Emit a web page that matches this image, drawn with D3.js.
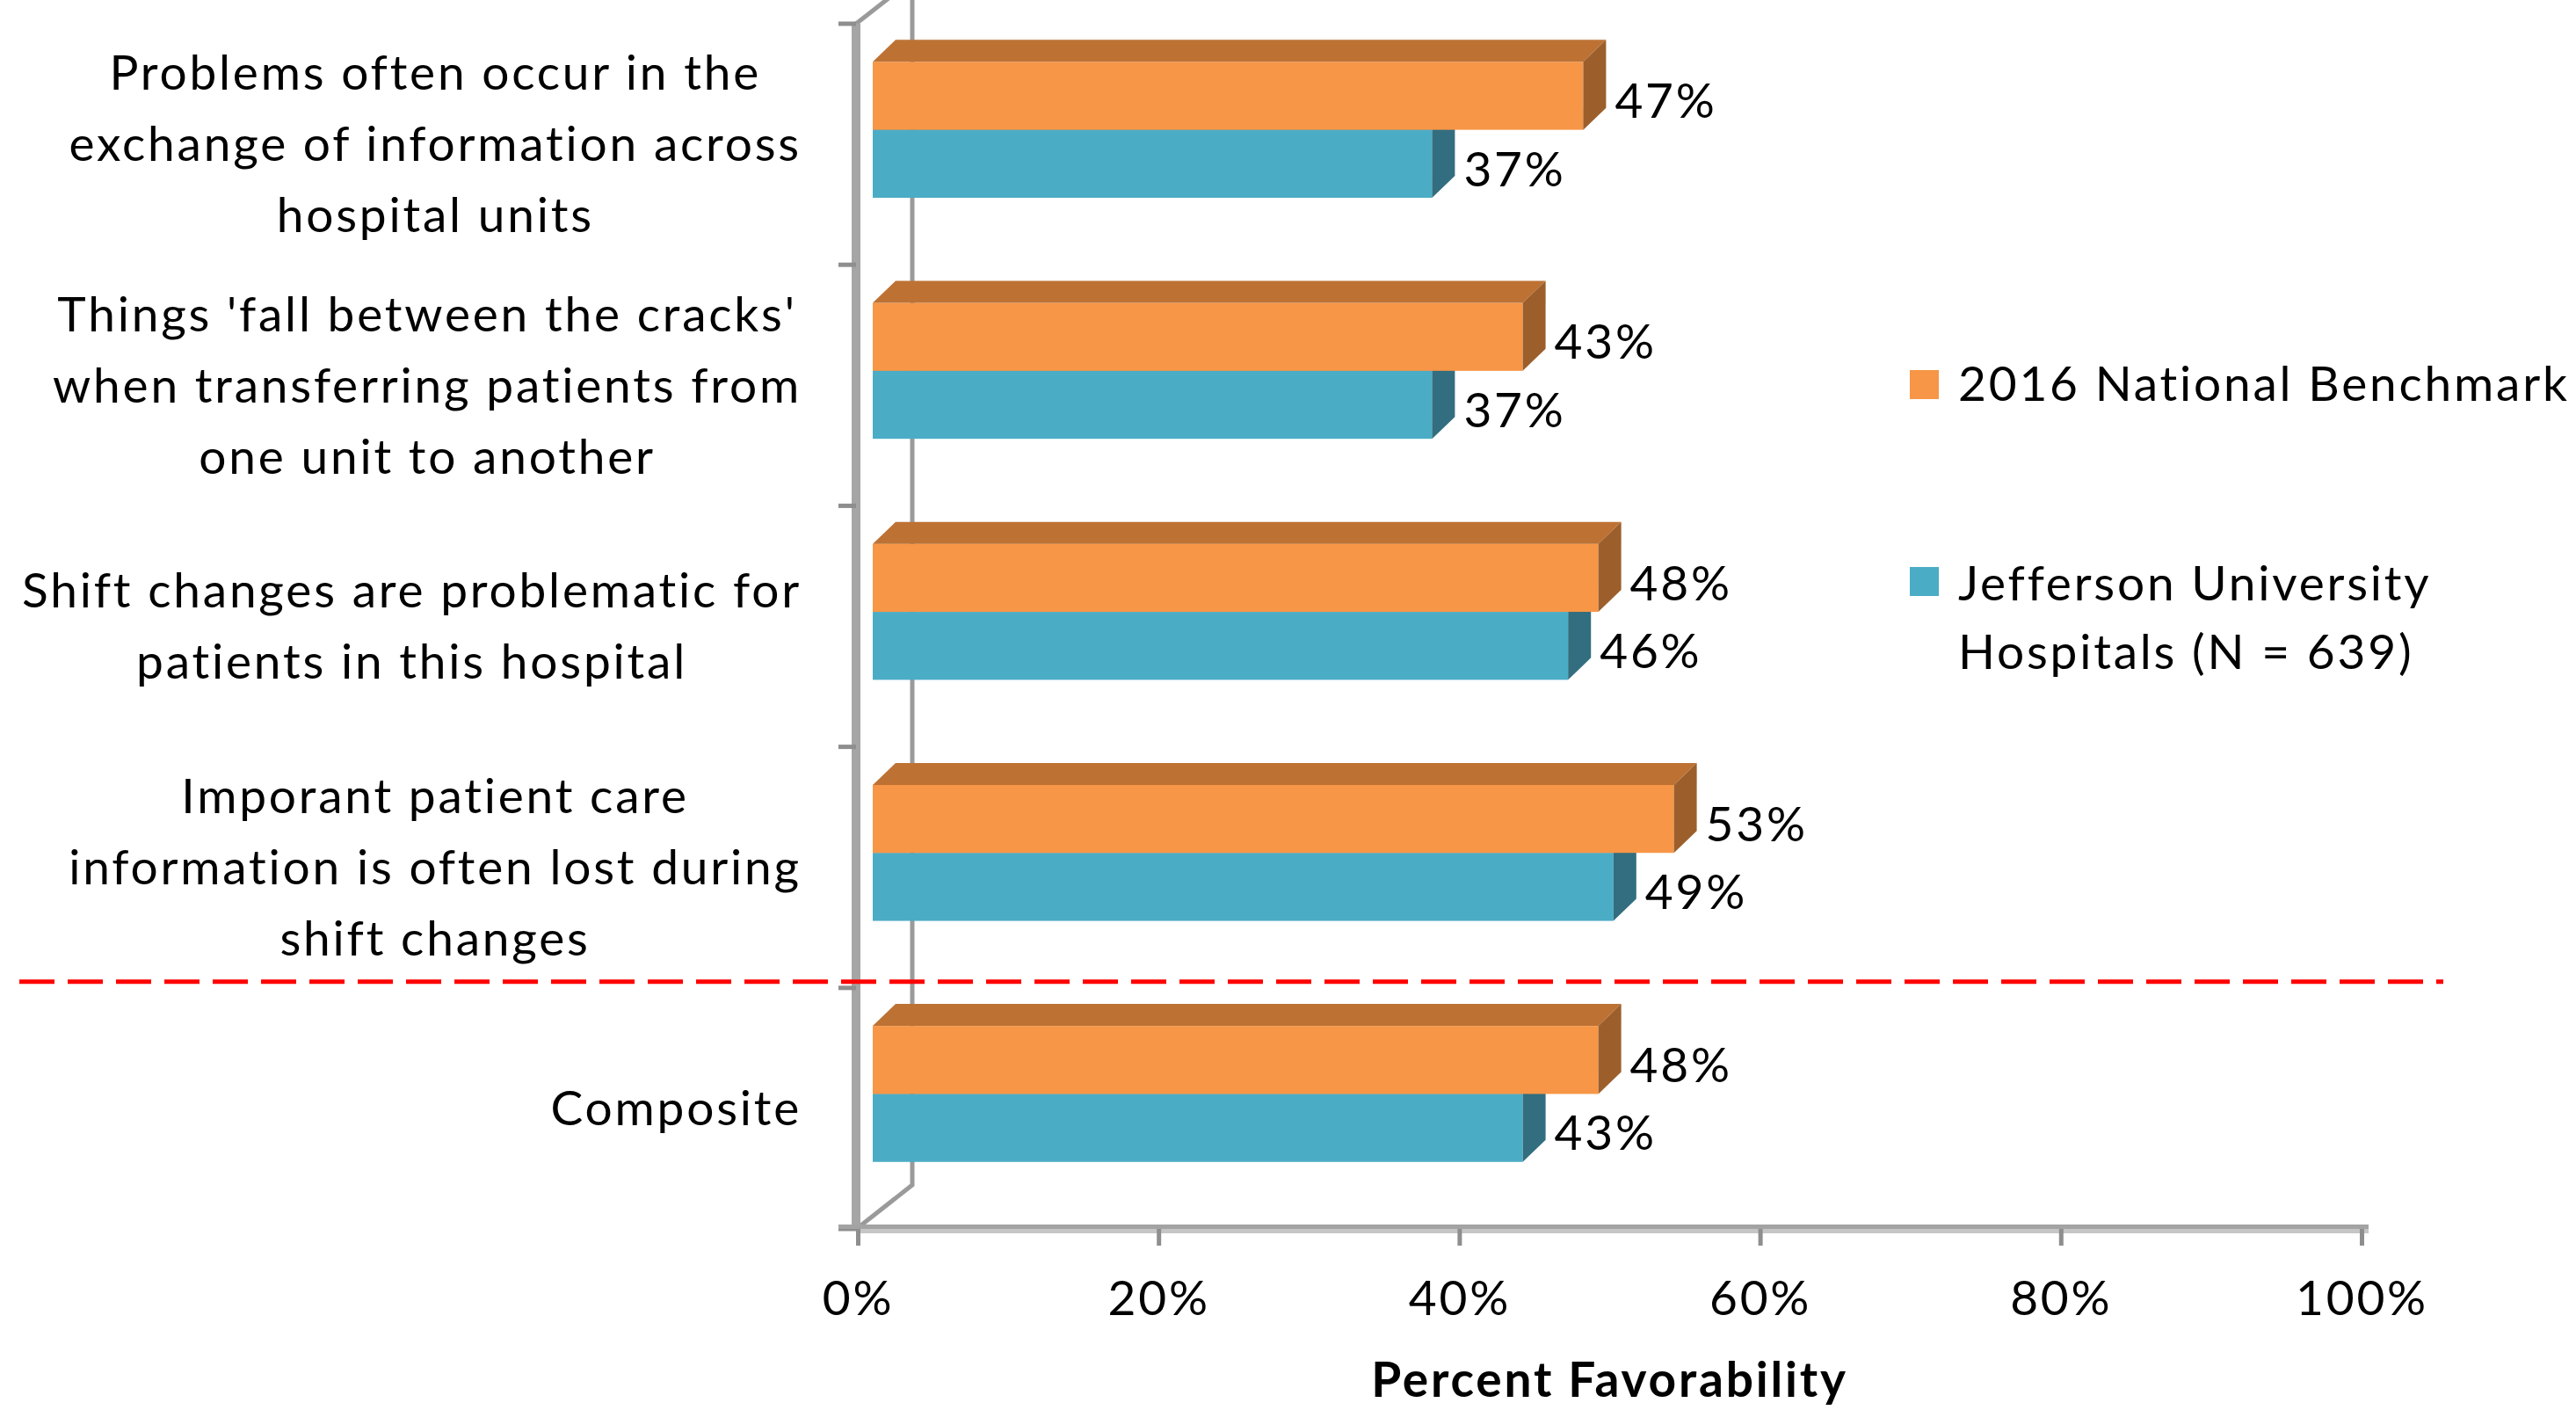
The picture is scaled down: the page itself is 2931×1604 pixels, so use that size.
<!DOCTYPE html>
<html>
<head>
<meta charset="utf-8">
<title>Handoffs and Transitions</title>
<script src="https://cdn.jsdelivr.net/npm/d3@7/dist/d3.min.js"></script>
<style>
  body { margin: 0; background: #fff; }
  text { font-family: Lato, "Open Sans", sans-serif; fill: #000; letter-spacing: 2.8px; }
</style>
</head>
<body>
<svg width="2931" height="1604" id="mainsvg" style="display: block;"></svg>
<script>
// data
const categories = ['c1', 'c2', 'c3', 'c4', 'c5'];
const categoryLines = [
  ['Problems often occur in the', 'exchange of information across', 'hospital units'],
  ["Things 'fall between the cracks'", 'when transferring patients from', 'one unit to another'],
  ['Shift changes are problematic for', 'patients in this hospital'],
  ['Imporant patient care', 'information is often lost during', 'shift changes'],
  ['Composite']
];
const benchmark = [47, 43, 48, 53, 48];
const jefferson = [37, 37, 46, 49, 43];
const seriesNames = ['2016 National Benchmark', 'Jefferson University Hospitals (N = 639)'];
const legendLines = [['2016 National Benchmark'], ['Jefferson University', 'Hospitals (N = 639)']];
const xTicks = [0, 20, 40, 60, 80, 100];
const axisTitle = 'Percent Favorability';

const svg = d3.select('svg');
const width = +svg.attr('width');
const height = +svg.attr('height');
const FS = 55;

// colours for front / top / side faces
const faces = {
  bench: { front: '#F79646', top: '#BD7234', side: '#9C5F2B' },
  jeff:  { front: '#4BACC6', top: '#3C8A9F', side: '#326E7F' }
};

const x = d3.scaleLinear().domain([0, 100]).range([976, 2687]);      // floor front
const xb = d3.scaleLinear().domain([0, 100]).range([993, 2713]);     // bars sit a bit into the depth
const y = d3.scaleBand().domain(categories).range([27, 1398]);
const ySub = d3.scaleBand().domain(['bench', 'jeff']).range([0, y.bandwidth() * 0.564]);
const barOffset = y.bandwidth() * 0.158;
const bdx = 26, bdy = 25;        // bar depth
const wdx = 64, wdy = 50;        // wall depth

// back wall edge
const wall = svg.append('g').attr('stroke', '#9A9A9A').attr('stroke-width', 5).attr('fill', 'none');
wall.append('path').attr('d', d3.line()([
  [x(0) - 2, y.range()[0]], [x(0) - 2 + wdx, y.range()[0] - wdy],
]));
wall.append('path').attr('d', d3.line()([
  [x(0) - 2 + wdx, y.range()[0] - wdy], [x(0) - 2 + wdx, y.range()[1] - wdy], [x(0) + 1, y.range()[1] - 2]
]));

// bars
const rows = categories.map((c, i) => ({ c, i, vals: [['jeff', jefferson[i]], ['bench', benchmark[i]]] }));
const g = svg.append('g');
rows.forEach(r => {
  r.vals.forEach(([k, v]) => {
    const x0 = xb(0), x1 = xb(v);
    const yT = y(r.c) + barOffset + ySub(k);
    const h = ySub.bandwidth();
    const col = faces[k];
    g.append('rect').attr('x', x0).attr('y', yT).attr('width', x1 - x0).attr('height', h).attr('fill', col.front);
    g.append('path').attr('fill', col.top)
      .attr('d', d3.line()([[x0, yT], [x1, yT], [x1 + bdx, yT - bdy], [x0 + bdx, yT - bdy]]) + 'Z');
    g.append('path').attr('fill', col.side)
      .attr('d', d3.line()([[x1, yT], [x1 + bdx, yT - bdy], [x1 + bdx, yT + h - bdy], [x1, yT + h]]) + 'Z');
    g.append('text').attr('x', x1 + bdx + 10).attr('y', yT + h / 2 + 6).attr('dy', '0.35em')
      .attr('font-size', FS).text(v + '%');
  });
});

// front vertical axis + category ticks
svg.append('line').attr('x1', x(0) - 2).attr('x2', x(0) - 2)
  .attr('y1', y.range()[0]).attr('y2', y.range()[1])
  .attr('stroke', '#A5A5A5').attr('stroke-width', 10);
const bounds = categories.map(c => y(c)).concat([y.range()[1]]);
svg.selectAll('line.ytick').data(bounds).join('line').attr('class', 'ytick')
  .attr('x1', x(0) - 22).attr('x2', x(0) - 2).attr('y1', d => d).attr('y2', d => d)
  .attr('stroke', '#8E8E8E').attr('stroke-width', 5);

// floor line
svg.append('line').attr('x1', x(0) - 22).attr('x2', x(100) + 8)
  .attr('y1', y.range()[1] - 2.5).attr('y2', y.range()[1] - 2.5)
  .attr('stroke', '#A3A3A3').attr('stroke-width', 5);
svg.append('line').attr('x1', x(0)).attr('x2', x(100) + 8)
  .attr('y1', y.range()[1] + 2.5).attr('y2', y.range()[1] + 2.5)
  .attr('stroke', '#C6C6C6').attr('stroke-width', 5);

// x axis
const xAxis = svg.append('g').attr('transform', `translate(0,${y.range()[1]})`)
  .call(d3.axisBottom(x).tickValues(xTicks).tickFormat(d => d + '%').tickSize(19).tickPadding(0));
xAxis.select('.domain').remove();
xAxis.selectAll('.tick line').attr('stroke', '#8E8E8E').attr('stroke-width', 5);
xAxis.selectAll('.tick text').attr('y', 79).attr('dy', '0.35em')
  .attr('font-size', FS).attr('font-family', 'Lato, sans-serif').attr('fill', '#000');

svg.append('text').attr('x', x(50)).attr('y', 1570).attr('dy', '0.35em')
  .attr('text-anchor', 'middle').attr('font-size', FS).attr('font-weight', 'bold')
  .text(axisTitle);

// category labels: lines centred in a box right-aligned to the axis
const labelRight = 912, lineGap = 81;
categories.forEach((c, i) => {
  const lines = categoryLines[i];
  const cy = y(c) + y.bandwidth() / 2;
  const t = svg.append('g');
  const texts = lines.map((s, j) => t.append('text')
    .attr('y', cy + (j - (lines.length - 1) / 2) * lineGap).attr('dy', '0.35em')
    .attr('font-size', FS).attr('text-anchor', 'middle').text(s));
  const maxW = d3.max(texts, tx => tx.node().getComputedTextLength());
  texts.forEach(tx => tx.attr('x', labelRight - maxW / 2));
});

// dashed separator above the composite
svg.append('line').attr('x1', 22).attr('x2', 2780)
  .attr('y1', y(categories[4]) - 7).attr('y2', y(categories[4]) - 7)
  .attr('stroke', '#FF0000').attr('stroke-width', 5).attr('stroke-dasharray', '40 15');

// legend
const legendY = [437, 664];
const legendCols = [faces.bench.front, faces.jeff.front];
seriesNames.forEach((s, i) => {
  svg.append('rect').attr('x', 2173).attr('y', legendY[i] - 16 + (i ? -3 : 0))
    .attr('width', 33).attr('height', 33).attr('fill', legendCols[i]);
  legendLines[i].forEach((ln, j) => {
    svg.append('text').attr('x', 2228).attr('y', legendY[i] + j * 78).attr('dy', '0.35em')
      .attr('font-size', FS).text(ln);
  });
});
</script>
</body>
</html>
